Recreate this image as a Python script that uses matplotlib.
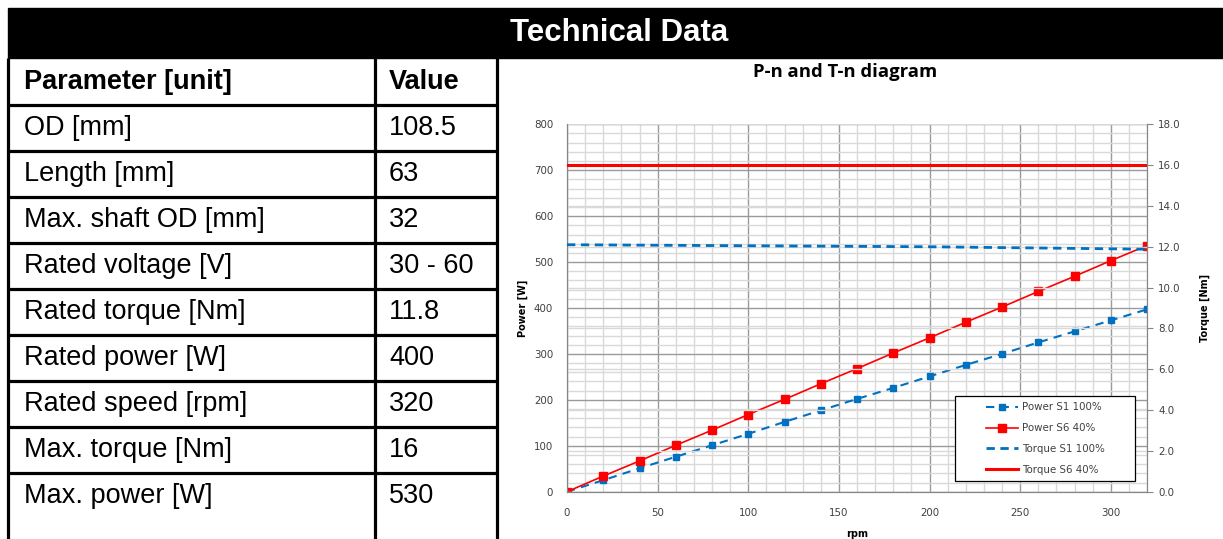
import matplotlib
matplotlib.use("Agg")
import matplotlib.pyplot as plt
from matplotlib.lines import Line2D
from matplotlib.patches import Rectangle
from matplotlib.ticker import MultipleLocator, FormatStrFormatter

# table content
PARAMETERS = [
    "OD [mm]",
    "Length [mm]",
    "Max. shaft OD [mm]",
    "Rated voltage [V]",
    "Rated torque [Nm]",
    "Rated power [W]",
    "Rated speed [rpm]",
    "Max. torque [Nm]",
    "Max. power [W]",
]
VALUES = ["108.5", "63", "32", "30 - 60", "11.8", "400", "320", "16", "530"]

# P-n / T-n curves
RPM = [0, 20, 40, 60, 80, 100, 120, 140, 160, 180, 200, 220, 240, 260, 280, 300, 320]
POWER_S1 = [0, 25, 51, 76, 101, 126, 152, 177, 202, 226, 251, 276, 300, 325, 349, 373, 397]
POWER_S6 = [0, 34, 67, 101, 134, 168, 201, 235, 268, 302, 335, 369, 402, 436, 469, 503, 536]
TORQUE_S1 = [12.10, 12.09, 12.08, 12.07, 12.06, 12.05, 12.04, 12.03, 12.02,
             12.01, 12.00, 11.98, 11.96, 11.94, 11.92, 11.90, 11.88]
TORQUE_S6 = [16.0] * len(RPM)

W, H = 1223, 539
RED = "#ff0000"
BLUE = "#0070c0"
TABLE_FONT = ["Liberation Sans Narrow", "Liberation Sans", "DejaVu Sans"]

fig = plt.figure(figsize=(W / 100, H / 100), dpi=100)

# pixel-coordinate canvas for the table and header
bg = fig.add_axes([0, 0, 1, 1])
bg.set_xlim(0, W)
bg.set_ylim(H, 0)
bg.axis("off")

bg.add_patch(Rectangle((8, 8), W - 8, 50, color="black", zorder=1))
bg.text(619, 33, "Technical Data", color="white", fontsize=22.5, fontweight="bold",
        ha="center", va="center", family=TABLE_FONT)

col_left, col_mid, col_right = 8, 375, 497
row_top = 58
row_h = 46
n_rows = len(PARAMETERS) + 1

for x in (col_left, col_mid, col_right):
    bg.plot([x, x], [row_top, H], color="black", lw=2.3, solid_capstyle="butt")
for i in range(1, n_rows):
    y = row_top + 1 + i * row_h
    bg.plot([col_left, col_right], [y, y], color="black", lw=2.3, solid_capstyle="butt")

bg.text(24, row_top + row_h / 2 + 1, "Parameter [unit]", fontsize=19.5, fontweight="bold",
        va="center", ha="left", family=TABLE_FONT)
bg.text(389, row_top + row_h / 2 + 1, "Value", fontsize=19.5, fontweight="bold",
        va="center", ha="left", family=TABLE_FONT)
for i, (p, v) in enumerate(zip(PARAMETERS, VALUES)):
    yc = row_top + 1 + (i + 1) * row_h + row_h / 2
    bg.text(24, yc, p, fontsize=19.5, va="center", ha="left", family=TABLE_FONT)
    bg.text(389, yc, v, fontsize=19.5, va="center", ha="left", family=TABLE_FONT)

# chart
left, right, top, bottom = 567, 1147, 124.3, 491.7
ax = fig.add_axes([left / W, 1 - bottom / H, (right - left) / W, (bottom - top) / H])
ax2 = ax.twinx()

ax.set_xlim(0, 320)
ax.set_ylim(0, 800)
ax2.set_ylim(0, 18)

ax.xaxis.set_major_locator(MultipleLocator(50))
ax.xaxis.set_minor_locator(MultipleLocator(10))
ax.yaxis.set_major_locator(MultipleLocator(100))
ax.yaxis.set_minor_locator(MultipleLocator(20))
ax2.yaxis.set_major_locator(MultipleLocator(2))
ax2.yaxis.set_major_formatter(FormatStrFormatter("%.1f"))

ax.grid(which="minor", color="#d9d9d9", lw=1.0)
ax.grid(which="major", color="#9a9a9a", lw=1.0)
ax2.grid(which="major", axis="y", color="#d9d9d9", lw=1.0)
ax.set_axisbelow(True)
ax2.set_axisbelow(True)

for a in (ax, ax2):
    for s in a.spines.values():
        s.set_color("#868686")
    a.spines["top"].set_visible(False)

ax.tick_params(which="both", length=0, labelsize=7.4, colors="#404040", pad=10)
ax.tick_params(axis="x", pad=12)
ax2.tick_params(which="major", length=4, color="#868686", labelsize=7.4,
                labelcolor="#404040", pad=4)
ax2.tick_params(which="minor", length=0)

ax.plot(RPM, POWER_S1, color=BLUE, lw=1.5, ls=(0, (4, 3)), marker="s", ms=5,
        zorder=3)
ax.plot(RPM, POWER_S6, color=RED, lw=1.2, marker="s", ms=5.5, zorder=3)
ax2.plot(RPM, TORQUE_S1, color=BLUE, lw=2.0, ls=(0, (3, 2)), zorder=3)
ax2.plot(RPM, TORQUE_S6, color=RED, lw=2.2, zorder=3)

ax.set_xlabel("rpm", fontsize=7, fontweight="bold", labelpad=8)
ax.set_ylabel("Power [W]", fontsize=7, fontweight="bold", labelpad=4)
ax2.set_ylabel("Torque [Nm]", fontsize=7, fontweight="bold", labelpad=14)

fig.text(845 / W, 1 - 72 / H, "P-n and T-n diagram", fontsize=13.3, fontweight="bold",
         ha="center", va="center", family=["Open Sans", "DejaVu Sans"])

# legend box drawn separately: Excel centres the entries with wide side margins
box_l, box_r, box_t, box_b = 955, 1135, 396, 481
ax2.add_patch(Rectangle((box_l / W, 1 - box_b / H), (box_r - box_l) / W,
                        (box_b - box_t) / H, transform=fig.transFigure,
                        facecolor="white", edgecolor="black", lw=0.9,
                        clip_on=False, zorder=4))

handles = [
    Line2D([], [], color=BLUE, lw=1.5, ls=(0, (4, 3)), marker="s", ms=5),
    Line2D([], [], color=RED, lw=1.2, marker="s", ms=5.5),
    Line2D([], [], color=BLUE, lw=2.0, ls=(0, (3, 2))),
    Line2D([], [], color=RED, lw=2.2),
]
labels = ["Power S1 100%", "Power S6 40%", "Torque S1 100%", "Torque S6 40%"]
leg = ax2.legend(handles, labels, loc="center",
                 bbox_to_anchor=((box_l + box_r) / 2 / W, 1 - (box_t + box_b) / 2 / H),
                 bbox_transform=fig.transFigure, borderaxespad=0, borderpad=0,
                 fontsize=7.4, frameon=False, labelspacing=1.05,
                 handlelength=3.2, handletextpad=0.3, labelcolor="#404040")
leg.set_zorder(5)

fig.savefig("out.png", dpi=100)
